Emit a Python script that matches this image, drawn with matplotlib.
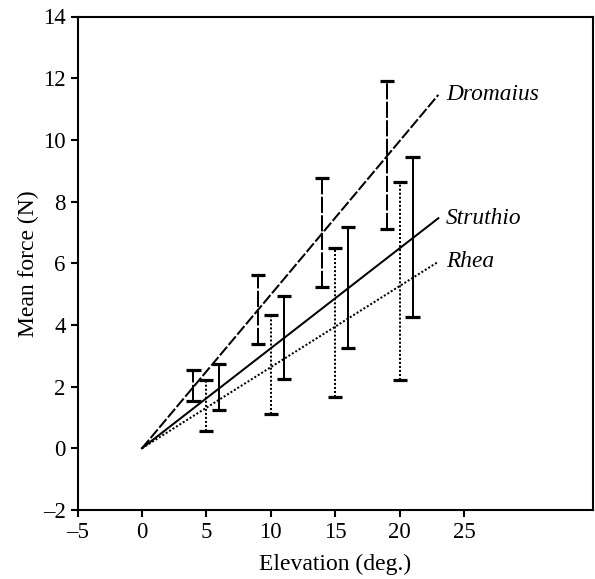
import matplotlib
matplotlib.use("Agg")
import matplotlib.pyplot as plt
import numpy as np

plt.rcParams['font.family'] = ['Liberation Serif', 'DejaVu Serif']

# Error bar data (elevation, lower, upper)
drom_x = [4, 9, 14, 19]
drom_lo = [1.53, 3.37, 5.24, 7.10]
drom_hi = [2.54, 5.62, 8.75, 11.92]

rhea_x = [5, 10, 15, 20]
rhea_lo = [0.57, 1.11, 1.65, 2.21]
rhea_hi = [2.21, 4.32, 6.48, 8.62]

stru_x = [6, 11, 16, 21]
stru_lo = [1.24, 2.24, 3.24, 4.25]
stru_hi = [2.73, 4.95, 7.19, 9.44]

# Regression lines through origin
line_x = [0, 23]
drom_line = [0, 11.46]
stru_line = [0, 7.46]
rhea_line = [0, 6.05]

species = ["Dromaius", "Struthio", "Rhea"]

fig = plt.figure(figsize=(5.95, 5.79), dpi=100)
ax = fig.add_axes([77.5/595, 1 - 510/579, (593 - 77.5)/595, (510 - 16.5)/579])

styles = {
    "Dromaius": (drom_x, drom_lo, drom_hi, drom_line, (0, (5.5, 1.2)), (0, (8, 1.2))),
    "Struthio": (stru_x, stru_lo, stru_hi, stru_line, '-', '-'),
    "Rhea": (rhea_x, rhea_lo, rhea_hi, rhea_line, (0, (1, 1)), (0, (1, 1))),
}

for name in species:
    xs, lo, hi, ln, ls, els = styles[name]
    ax.plot(line_x, ln, color='black', lw=1.45, linestyle=ls)
    for x, l, h in zip(xs, lo, hi):
        ax.plot([x, x], [l, h], color='black', lw=1.45, linestyle=els)
        ax.plot([x - 0.55, x + 0.55], [l, l], color='black', lw=2.3, solid_capstyle='butt')
        ax.plot([x - 0.55, x + 0.55], [h, h], color='black', lw=2.3, solid_capstyle='butt')
    ax.text(line_x[1] + 0.6, ln[1], name, style='italic', fontsize=16.8,
            va='center', ha='left')

ax.set_xlim(-5, 35)
ax.set_ylim(-2, 14)
ax.set_xticks([-5, 0, 5, 10, 15, 20, 25])
ax.set_xticklabels(['\u20135', '0', '5', '10', '15', '20', '25'])
ax.set_yticks([-2, 0, 2, 4, 6, 8, 10, 12, 14])
ax.set_yticklabels(['\u20132', '0', '2', '4', '6', '8', '10', '12', '14'])
ax.tick_params(direction='out', length=5, width=1.5, labelsize=16.5, top=False, right=False)
for s in ax.spines.values():
    s.set_linewidth(1.5)

ax.set_xlabel('Elevation (deg.)', fontsize=17, labelpad=8)
ax.set_ylabel('Mean force (N)', fontsize=17, labelpad=3)

fig.savefig('out.png', dpi=100)
